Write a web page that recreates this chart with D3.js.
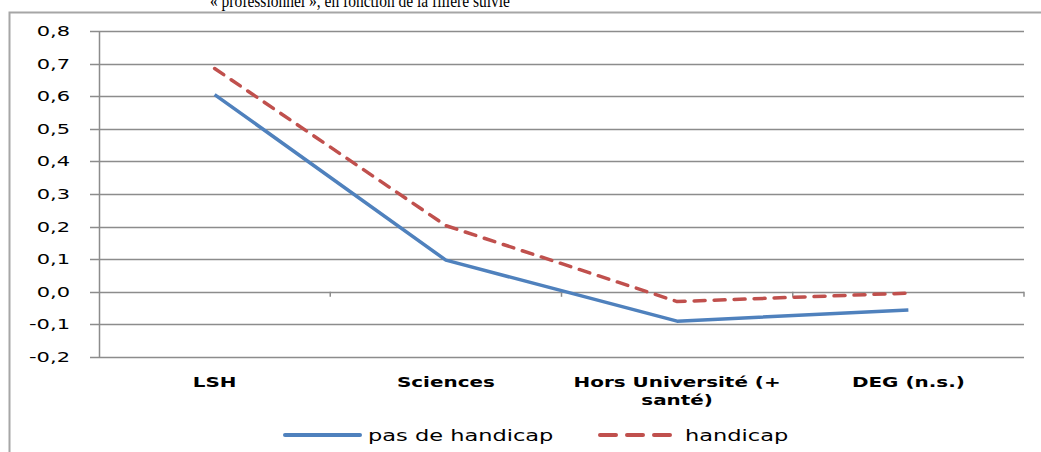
<!DOCTYPE html>
<html>
<head>
<meta charset="utf-8">
<script src="https://cdn.jsdelivr.net/npm/d3@7"></script>
<style>
  html, body { margin: 0; padding: 0; background: #fff; }
  svg { display: block; }
</style>
</head>
<body>
<svg id="chart" width="1041" height="452"></svg>
<script>
const categories = ["LSH", "Sciences", "Hors Université (+\nsanté)", "DEG (n.s.)"];
const pasDeHandicap = [0.605, 0.097, -0.090, -0.056];
const handicap = [0.685, 0.203, -0.030, -0.004];
const yTicks = [-0.2, -0.1, 0.0, 0.1, 0.2, 0.3, 0.4, 0.5, 0.6, 0.7, 0.8];
const seriesNames = ["pas de handicap", "handicap"];
const titleText = "« professionnel », en fonction de la filière suivie";

const svg = d3.select("#chart");
const W = 1041, H = 452;
const SX = 1.5; // horizontal stretch of text seen in the reference

svg.append("rect").attr("width", W).attr("height", H).attr("fill", "#fff");

// title (cut at top, as in the reference)
svg.append("text")
  .attr("x", 210).attr("y", 7)
  .attr("font-family", "Liberation Serif, Times New Roman, serif")
  .attr("font-size", 19)
  .attr("textLength", 300).attr("lengthAdjust", "spacingAndGlyphs")
  .attr("fill", "#000")
  .text(titleText);

// outer chart frame
svg.append("rect")
  .attr("x", 9.5).attr("y", 12.5)
  .attr("width", W + 20).attr("height", H + 20)
  .attr("fill", "none").attr("stroke", "#a6a6a6").attr("stroke-width", 2);

const x = d3.scaleBand().domain(categories).range([99, 1024]).padding(0);
const y = d3.scaleLinear().domain([-0.2, 0.8]).range([357, 31]);

const fmt = v => d3.format(".1f")(v).replace(".", ",").replace("−", "-");

// gridlines
svg.append("g").selectAll("line").data(yTicks).join("line")
  .attr("x1", 90).attr("x2", 1024)
  .attr("y1", d => Math.round(y(d)) + 0.5).attr("y2", d => Math.round(y(d)) + 0.5)
  .attr("stroke", "#8c8c8c").attr("stroke-width", 1.3);

// y axis line
svg.append("line")
  .attr("x1", 99.5).attr("x2", 99.5).attr("y1", y(0.8)).attr("y2", y(-0.2))
  .attr("stroke", "#8c8c8c").attr("stroke-width", 1.5);

// y tick labels
svg.append("g").selectAll("text").data(yTicks).join("text")
  .attr("transform", d => `translate(70,${y(d) + 5}) scale(${SX},1)`)
  .attr("text-anchor", "end")
  .attr("font-family", "DejaVu Sans, Verdana, sans-serif")
  .attr("font-size", 14)
  .attr("fill", "#000")
  .text(d => fmt(d));

// category axis at zero with tick marks
const bounds = categories.map(c => x(c)).concat([x.range()[1]]);
svg.append("g").selectAll("line").data(bounds.slice(1)).join("line")
  .attr("x1", d => d).attr("x2", d => d)
  .attr("y1", y(0)).attr("y2", y(0) + 5)
  .attr("stroke", "#8c8c8c").attr("stroke-width", 1.5);

// category labels
const catG = svg.append("g");
categories.forEach(c => {
  const lines = c.split("\n");
  lines.forEach((ln, i) => {
    catG.append("text")
      .attr("transform", `translate(${x(c) + x.bandwidth() / 2},${387 + i * 18}) scale(${SX},1)`)
      .attr("text-anchor", "middle")
      .attr("font-family", "DejaVu Sans, Verdana, sans-serif")
      .attr("font-weight", "bold")
      .attr("font-size", 13.3)
      .attr("fill", "#000")
      .text(ln);
  });
});

// lines
const lineGen = d3.line()
  .x((d, i) => x(categories[i]) + x.bandwidth() / 2)
  .y(d => y(d));

svg.append("path").datum(pasDeHandicap)
  .attr("d", lineGen)
  .attr("fill", "none").attr("stroke", "#4f81bd").attr("stroke-width", 3.5)
  .attr("stroke-linejoin", "round");

svg.append("path").datum(handicap)
  .attr("d", lineGen)
  .attr("fill", "none").attr("stroke", "#c0504d").attr("stroke-width", 3.5)
  .attr("stroke-dasharray", "11,9").attr("stroke-linecap", "round")
  .attr("stroke-linejoin", "round");

// legend
const legY = 435;
const leg = svg.append("g");
leg.append("line").attr("x1", 285).attr("x2", 360).attr("y1", legY).attr("y2", legY)
  .attr("stroke", "#4f81bd").attr("stroke-width", 4).attr("stroke-linecap", "round");
leg.append("text")
  .attr("transform", `translate(368,${legY + 6}) scale(${SX},1)`)
  .attr("font-family", "DejaVu Sans, Verdana, sans-serif")
  .attr("font-size", 15)
  .attr("fill", "#000")
  .text(seriesNames[0]);
leg.append("line").attr("x1", 600).attr("x2", 670).attr("y1", legY).attr("y2", legY)
  .attr("stroke", "#c0504d").attr("stroke-width", 4)
  .attr("stroke-dasharray", "16,11").attr("stroke-linecap", "round");
leg.append("text")
  .attr("transform", `translate(685,${legY + 6}) scale(${SX},1)`)
  .attr("font-family", "DejaVu Sans, Verdana, sans-serif")
  .attr("font-size", 15)
  .attr("fill", "#000")
  .text(seriesNames[1]);
</script>
</body>
</html>
